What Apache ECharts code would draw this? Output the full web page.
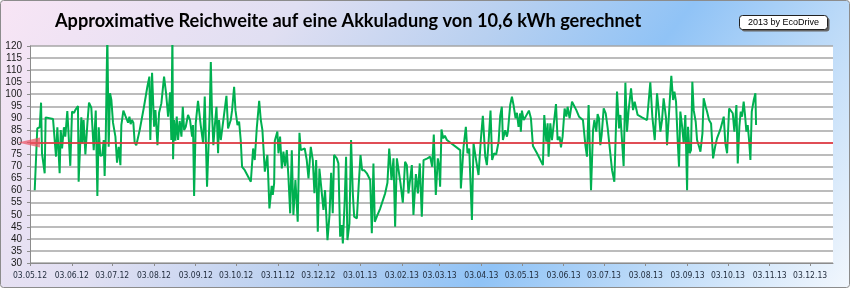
<!DOCTYPE html>
<html>
<head>
<meta charset="utf-8">
<script src="https://cdn.jsdelivr.net/npm/echarts@6/dist/echarts.min.js"></script>
<style>
html,body{margin:0;padding:0;background:#fff;}
#chart{width:850px;height:288px;}
</style>
</head>
<body>
<div id="chart"></div>
<script>
// ---- data ----
const titleText = 'Approximative Reichweite auf eine Akkuladung von 10,6 kWh gerechnet';
const badgeText = '2013 by EcoDrive';
const startDate = '2012-05-03';
const axisEndDate = '2013-12-20';
const threshold = 80;
const yTicks = [30, 120, 5]; // min, max, step
const xTickLabels = ['03.05.12','03.06.12','03.07.12','03.08.12','03.09.12','03.10.12','03.11.12','03.12.12','03.01.13','03.02.13','03.03.13','03.04.13','03.05.13','03.06.13','03.07.13','03.08.13','03.09.13','03.10.13','03.11.13','03.12.13'];
// days since startDate
const dayOffsets = [3.5,5.4,7.2,8.2,8.9,10.9,11.6,17.1,18.3,19.3,20.3,22.0,22.8,23.8,25.2,26.2,27.7,28.7,29.9,31.2,32.7,33.6,34.6,35.6,36.1,38.1,38.9,39.8,41.1,42.6,43.8,45.5,47.3,48.8,50.0,51.0,52.2,53.7,54.7,55.4,56.2,57.4,58.4,59.4,60.4,61.6,63.4,64.6,65.8,67.1,67.8,69.3,70.8,71.8,72.8,73.8,74.7,75.7,76.7,77.7,78.9,81.4,84.6,87.1,88.6,89.3,90.6,92.1,93.1,94.6,95.8,97.5,99.5,101.0,102.5,104.0,104.9,105.7,106.2,106.9,107.9,108.9,109.9,111.1,112.4,113.4,114.4,115.6,117.3,118.8,120.3,121.0,121.8,123.0,124.7,126.7,128.5,129.7,131.4,133.4,134.2,135.1,136.1,137.1,138.4,139.6,140.3,141.6,142.8,144.0,145.8,147.0,149.0,150.0,151.5,152.5,154.0,155.2,156.4,157.4,159.4,163.9,165.6,166.8,168.3,170.1,171.3,172.5,174.3,176.2,177.7,179.4,180.2,181.2,181.7,182.7,183.6,184.4,185.6,186.9,188.1,189.3,190.6,191.8,193.1,194.3,195.5,197.0,198.7,200.0,201.0,202.0,203.9,205.4,206.7,208.4,209.9,211.1,212.4,213.6,214.8,216.6,217.8,219.0,220.8,222.3,223.5,224.7,225.7,227.7,228.9,230.2,231.4,232.2,233.6,234.6,235.6,237.1,238.3,239.6,240.6,241.6,242.6,244.0,245.3,246.5,248.0,250.0,252.5,253.7,254.9,255.9,257.4,259.9,263.6,265.3,266.6,267.3,268.3,269.8,271.0,272.3,273.5,275.0,276.7,278.4,279.7,280.9,282.2,283.4,284.6,286.4,287.9,289.3,290.8,292.1,293.3,295.0,297.0,298.5,299.7,301.2,302.7,303.7,304.4,305.4,306.7,307.9,309.4,319.3,319.8,321.8,323.5,324.7,326.0,328.0,329.2,330.9,332.9,334.6,336.1,337.9,339.1,340.3,341.8,343.0,344.5,346.0,347.8,349.0,350.2,351.0,352.7,354.0,354.7,356.4,357.7,358.9,360.4,361.4,362.6,363.8,364.3,365.1,366.4,367.6,368.9,370.3,371.8,373.3,376.3,380.7,381.7,383.2,384.2,384.9,386.2,387.4,388.7,390.4,391.6,393.1,394.1,395.3,396.8,398.1,399.0,400.5,402.3,403.5,405.5,407.5,408.9,410.4,412.2,413.4,414.6,416.4,417.9,418.9,420.3,421.3,422.3,423.3,424.3,425.8,427.3,428.8,430.7,432.0,433.7,435.7,437.2,438.2,439.4,440.6,441.9,443.1,444.3,446.1,447.6,448.8,450.0,451.0,454.2,458.0,459.2,460.4,461.9,463.7,465.4,466.6,467.9,469.1,470.3,472.1,472.8,474.0,475.3,476.0,477.3,478.3,479.5,480.7,481.7,482.7,483.9,485.2,486.4,487.7,488.4,489.6,490.6,491.6,492.6,494.1,495.1,496.6,497.6,499.1,500.0,501.5,502.5,504.0,505.5,507.0,508.5,509.9,512.4,514.9,516.1,517.4,518.9,520.3,521.6,522.8,524.3,525.3,526.5,527.5,528.5,529.7,530.7,531.7,532.7,533.7,534.7,535.7,537.2,538.4,538.9];
// approximate range in km
const rangeKm = [60.2,85.8,86.3,96.5,75.5,67.2,90.4,89.7,89.6,74.1,86.3,67.2,85.1,77.5,86.3,82.4,93.0,93.0,70.3,92.8,92.3,93.4,94.1,95.1,63.7,90.4,79.6,89.3,75.0,87.9,96.5,94.4,76.8,93.2,57.8,86.3,74.4,74.8,81.0,66.1,81.3,125,78.2,100.4,97.6,88.2,82.4,71.6,78.2,70.6,87.2,93.2,91.0,91.8,88.2,90.7,87.6,89.3,88.2,79.9,78.8,85.1,94.8,103.1,107.3,81.0,108.9,86.5,93.4,78.9,92.3,96.2,107.3,100.4,90.7,100.8,81.0,125,73.0,89.3,80.7,90.7,81.0,88.9,82.4,94.8,85.1,86.5,91.4,89.3,82.4,87.2,57.8,87.9,97.2,87.2,79.6,99.0,61.6,92.1,113.4,92.1,78.9,86.5,94.8,75.5,89.3,81.0,86.1,85.8,99.3,85.8,89.3,93.4,103.1,93.4,87.2,88.6,81.0,69.9,68.5,63.7,77.5,72.7,85.8,97.3,89.3,85.1,67.9,74.8,52.6,62.0,58.2,63.0,80.7,81.5,84.5,75.5,82.4,69.2,76.2,70.2,76.8,65.8,50.6,76.8,49.9,64.4,47.1,84.0,76.8,77.5,77.5,72.7,65.1,78.2,72.7,58.9,72.7,43.0,69.2,58.9,52.0,60.2,39.5,49.9,67.4,50.6,74.8,73.4,71.3,40.9,45.7,38.1,56.1,74.1,39.5,46.4,81.0,58.9,49.2,49.2,48.5,62.7,74.8,68.5,68.5,67.2,64.4,42.3,71.3,47.1,49.2,52.6,58.9,63.3,77.5,72.7,64.4,73.4,45.0,73.4,73.4,63.0,55.0,72.0,70.6,58.9,58.9,70.6,49.9,66.9,58.9,71.3,49.2,72.7,73.4,73.4,74.1,69.9,83.3,58.2,73.4,69.9,61.6,85.4,81.7,82.8,81.0,76.8,60.9,78.2,86.5,75.5,77.5,47.8,79.6,73.4,66.5,81.0,91.0,74.1,70.6,79.6,93.2,72.7,75.5,75.0,80.3,91.0,94.8,81.0,85.1,82.4,84.5,95.5,99.0,95.5,90.0,92.3,86.5,92.1,84.5,93.2,89.3,90.4,89.7,93.2,90.0,78.5,75.5,70.6,91.4,80.3,87.9,74.1,87.9,81.0,81.0,95.9,81.0,82.4,78.0,82.4,94.1,90.7,94.8,90.0,96.9,96.2,93.4,90.7,91.4,89.3,78.9,74.1,95.5,60.2,85.1,89.3,84.5,91.8,90.0,78.9,83.1,94.1,92.1,85.8,75.5,68.5,63.7,101.1,85.8,91.4,90.7,70.2,104.8,84.5,93.4,102.4,93.4,96.9,97.6,91.4,90.4,89.3,88.6,104.9,90.7,81.0,100.4,93.4,84.5,89.3,98.3,90.0,78.9,89.3,101.7,107.6,97.6,101.1,96.9,81.0,69.9,92.8,87.2,79.6,91.4,60.2,86.5,75.5,76.8,105.2,93.4,88.6,81.0,78.2,76.2,83.8,98.3,94.8,92.8,89.3,87.9,73.4,78.2,81.7,85.4,90.7,79.6,75.5,94.1,93.4,92.1,84.5,95.5,71.3,86.5,92.8,90.7,96.9,91.4,84.5,87.2,81.0,72.7,92.8,97.6,100.4,87.2];

// ---- build ----
const DAY = 86400000;
function parseISO(s){const p=s.split('-').map(Number);return Date.UTC(p[0],p[1]-1,p[2]);}
function parseDE(s){const p=s.split('.').map(Number);return Date.UTC(2000+p[2],p[1]-1,p[0]);}
function fmtDE(t){const d=new Date(t);const z=n=>String(n).padStart(2,'0');return z(d.getUTCDate())+'.'+z(d.getUTCMonth()+1)+'.'+z(d.getUTCFullYear()%100);}
const t0 = parseISO(startDate);
const tEnd = parseISO(axisEndDate);
const seriesData = dayOffsets.map((d,i)=>[t0 + d*DAY, rangeKm[i]]);
const xTickValues = xTickLabels.map(parseDE);

const chart = echarts.init(document.getElementById('chart'), null, {renderer:'canvas'});
const bgGrad = new echarts.graphic.LinearGradient(0,0,676,516,[
  {offset:0,color:'#f8e5f5'},
  {offset:0.28,color:'#e0dff2'},
  {offset:0.48,color:'#b8d0f0'},
  {offset:0.65,color:'#90c3f6'},
  {offset:0.8,color:'#bcdaf8'},
  {offset:1,color:'#f2f7fd'}
], true);

chart.setOption({
  animation:false,
  backgroundColor:'transparent',
  graphic:[
    {type:'rect',z:-10,silent:true,shape:{x:0.5,y:0.5,width:849,height:287,r:3},style:{fill:bgGrad,stroke:'#8c8c8c',lineWidth:1}},
    {type:'text',left:55,top:12,style:{text:titleText,font:'bold 18.2px Lato, "Open Sans", sans-serif',fill:'#000'}},
    {type:'group',left:739,top:15,children:[
      {type:'rect',shape:{x:2,y:2,width:88,height:14,r:3},style:{fill:'#666'}},
      {type:'rect',shape:{x:0,y:0,width:88,height:14,r:3},style:{fill:'#fff',stroke:'#222',lineWidth:1}},
      {type:'text',x:44,y:7,style:{text:badgeText,font:'9px "Liberation Sans", sans-serif',fill:'#000',align:'center',verticalAlign:'middle'}}
    ]}
  ],
  grid:{left:30,right:17,top:46,bottom:25,show:true,backgroundColor:'#ffffff',borderWidth:0},
  xAxis:{
    type:'value',
    min:t0, max:tEnd,
    axisLine:{show:true,lineStyle:{color:'#8c8c8c',width:1}},
    axisTick:{show:true,length:3,customValues:xTickValues,lineStyle:{color:'#8c8c8c'}},
    axisLabel:{customValues:xTickValues,formatter:v=>fmtDE(v),fontSize:8.5,fontFamily:'"Liberation Sans Narrow","DejaVu Sans Condensed","Liberation Sans",sans-serif',color:'#1f2a3a',margin:8,hideOverlap:false,showMinLabel:true,showMaxLabel:true},
    splitLine:{show:false}
  },
  yAxis:{
    type:'value',min:yTicks[0],max:yTicks[1],interval:yTicks[2],
    axisLine:{show:true,lineStyle:{color:'#8c8c8c'}},
    axisTick:{show:true,length:3,lineStyle:{color:'#8c8c8c'}},
    axisLabel:{fontSize:10,fontFamily:'"Liberation Sans",sans-serif',color:'#1a1a1a',margin:8},
    splitLine:{show:true,lineStyle:{color:'#a6a6a6',width:1.5}}
  },
  series:[{
    type:'line',
    data:seriesData,
    showSymbol:false,
    clip:true,
    lineStyle:{color:'#00b050',width:2},
    itemStyle:{color:'#00b050'},
    markLine:{
      silent:true,
      symbol:['none','none'],
      label:{show:false},
      lineStyle:{color:'rgba(232,50,60,0.8)',width:2,type:'solid'},
      data:[{yAxis:threshold}]
    },
    markPoint:{
      silent:true,
      symbol:'triangle',
      symbolSize:[10,22],
      symbolRotate:90,
      symbolOffset:[-1,0],
      label:{show:false},
      itemStyle:{color:'rgba(236,80,95,0.7)'},
      data:[{coord:[t0, threshold]}]
    }
  }]
});
</script>
</body>
</html>
